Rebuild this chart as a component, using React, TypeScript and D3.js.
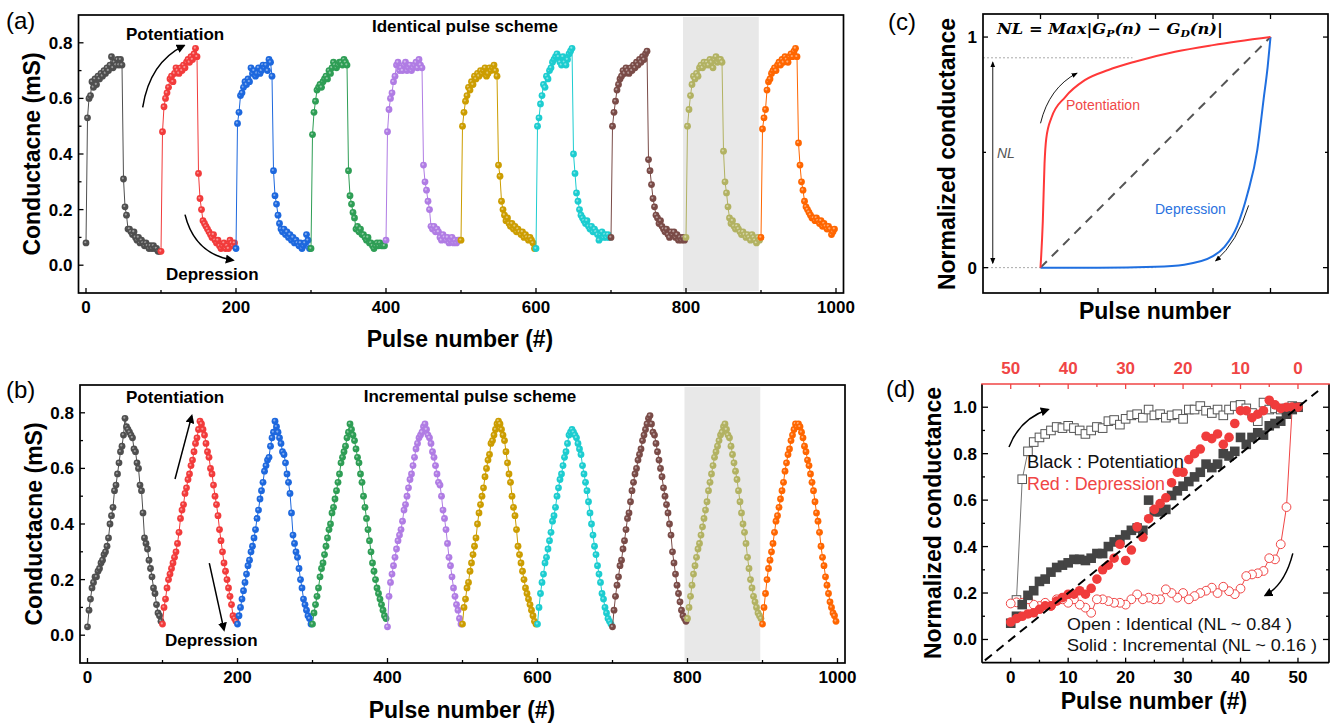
import React from 'react';
import * as d3 from 'd3';

// ---------------- DATA ----------------
const cycleColors = ['#4f4f4f', '#f23b3b', '#1d68de', '#2e9e55', '#b07ce4', '#cc9d00', '#1ccdd0', '#7a4b47', '#b2b262', '#ff6600'];
const pulsesPerCycle = 100;
const sampleStep = 2; // every 2nd pulse
const highlightBand = [796, 897];

// (a) identical pulse scheme, conductance (mS), one array per cycle (pulses 0,2,...,98)
const identicalCycles: number[][] = [
  [0.08,0.53,0.60,0.61,0.66,0.64,0.67,0.65,0.68,0.67,0.69,0.68,0.70,0.69,0.71,0.70,0.72,0.75,0.71,0.73,0.72,0.74,0.72,0.74,0.72, 0.31,0.21,0.18,0.13,0.13,0.12,0.11,0.12,0.10,0.09,0.10,0.08,0.09,0.08,0.07,0.08,0.07,0.06,0.07,0.06,0.07,0.06,0.06,0.05,0.05],
  [0.05,0.48,0.57,0.60,0.62,0.64,0.67,0.68,0.66,0.69,0.71,0.70,0.69,0.71,0.70,0.72,0.71,0.73,0.74,0.73,0.75,0.74,0.76,0.78,0.75, 0.33,0.24,0.20,0.16,0.15,0.14,0.13,0.12,0.11,0.10,0.11,0.09,0.08,0.09,0.07,0.06,0.07,0.08,0.06,0.07,0.06,0.09,0.08,0.07,0.08],
  [0.06,0.51,0.55,0.61,0.62,0.64,0.66,0.65,0.67,0.66,0.71,0.69,0.70,0.68,0.69,0.71,0.69,0.70,0.72,0.71,0.72,0.70,0.74,0.73,0.68, 0.34,0.25,0.22,0.18,0.15,0.13,0.12,0.13,0.11,0.12,0.10,0.11,0.09,0.10,0.08,0.09,0.08,0.07,0.08,0.06,0.07,0.08,0.11,0.09,0.06],
  [0.06,0.47,0.55,0.59,0.63,0.64,0.65,0.64,0.66,0.67,0.68,0.67,0.70,0.69,0.71,0.73,0.72,0.71,0.72,0.73,0.73,0.72,0.74,0.73,0.72, 0.34,0.25,0.22,0.19,0.17,0.13,0.14,0.12,0.13,0.11,0.11,0.10,0.09,0.10,0.08,0.08,0.07,0.06,0.07,0.08,0.07,0.08,0.07,0.07,0.07],
  [0.09,0.48,0.56,0.60,0.62,0.66,0.68,0.72,0.73,0.70,0.71,0.70,0.72,0.73,0.70,0.71,0.72,0.70,0.71,0.72,0.73,0.71,0.74,0.72,0.71, 0.36,0.30,0.27,0.23,0.20,0.14,0.13,0.14,0.12,0.13,0.12,0.10,0.09,0.11,0.10,0.09,0.10,0.08,0.09,0.10,0.08,0.09,0.08,0.09,0.09],
  [0.09,0.50,0.55,0.59,0.61,0.64,0.63,0.66,0.65,0.68,0.67,0.69,0.68,0.70,0.69,0.70,0.71,0.68,0.69,0.71,0.70,0.71,0.72,0.70,0.68, 0.36,0.32,0.23,0.20,0.18,0.16,0.17,0.15,0.14,0.15,0.13,0.14,0.12,0.13,0.12,0.11,0.12,0.10,0.11,0.10,0.09,0.10,0.09,0.08,0.06],
  [0.06,0.50,0.53,0.58,0.61,0.65,0.64,0.68,0.67,0.70,0.71,0.73,0.74,0.75,0.76,0.75,0.73,0.72,0.75,0.73,0.72,0.74,0.76,0.77,0.78, 0.40,0.33,0.26,0.23,0.20,0.18,0.17,0.16,0.15,0.16,0.14,0.13,0.14,0.12,0.13,0.12,0.11,0.09,0.11,0.12,0.10,0.11,0.10,0.11,0.10],
  [0.10,0.50,0.55,0.59,0.63,0.65,0.67,0.68,0.70,0.69,0.71,0.70,0.69,0.71,0.70,0.72,0.71,0.73,0.72,0.74,0.73,0.75,0.74,0.76,0.77, 0.38,0.34,0.29,0.24,0.21,0.18,0.17,0.15,0.16,0.14,0.13,0.12,0.13,0.11,0.10,0.12,0.11,0.12,0.10,0.11,0.09,0.10,0.09,0.10,0.09],
  [0.10,0.50,0.56,0.61,0.65,0.68,0.67,0.69,0.68,0.71,0.72,0.71,0.73,0.72,0.73,0.72,0.74,0.73,0.71,0.74,0.75,0.73,0.74,0.74,0.73, 0.41,0.30,0.26,0.21,0.17,0.15,0.16,0.14,0.13,0.14,0.13,0.12,0.11,0.12,0.11,0.10,0.11,0.10,0.09,0.11,0.10,0.09,0.08,0.10,0.09],
  [0.10,0.49,0.53,0.56,0.63,0.66,0.67,0.69,0.70,0.71,0.70,0.72,0.73,0.72,0.74,0.73,0.75,0.74,0.73,0.75,0.76,0.75,0.77,0.78,0.75, 0.44,0.36,0.30,0.27,0.23,0.21,0.20,0.19,0.18,0.17,0.17,0.16,0.17,0.16,0.15,0.16,0.14,0.15,0.14,0.13,0.14,0.13,0.11,0.12,0.13],
];

// (b) incremental pulse scheme
const incrementalCycles: number[][] = [
  [0.03,0.09,0.13,0.17,0.19,0.21,0.21,0.23,0.24,0.26,0.27,0.29,0.30,0.32,0.35,0.40,0.43,0.46,0.52,0.54,0.58,0.62,0.66,0.68,0.72, 0.78,0.75,0.74,0.73,0.72,0.71,0.67,0.66,0.62,0.60,0.54,0.52,0.44,0.35,0.33,0.31,0.27,0.24,0.21,0.17,0.15,0.11,0.08,0.07,0.05],
  [0.04,0.10,0.13,0.17,0.20,0.22,0.24,0.26,0.28,0.30,0.33,0.37,0.42,0.45,0.47,0.51,0.53,0.56,0.58,0.61,0.63,0.66,0.69,0.71,0.74, 0.77,0.76,0.74,0.72,0.69,0.66,0.64,0.60,0.58,0.54,0.50,0.47,0.43,0.38,0.34,0.30,0.26,0.23,0.20,0.17,0.14,0.11,0.07,0.06,0.05],
  [0.04,0.07,0.10,0.13,0.16,0.19,0.22,0.25,0.27,0.30,0.32,0.35,0.38,0.42,0.45,0.49,0.52,0.55,0.59,0.61,0.63,0.64,0.68,0.71,0.73, 0.77,0.75,0.73,0.71,0.69,0.66,0.65,0.62,0.58,0.55,0.51,0.44,0.36,0.33,0.30,0.28,0.24,0.20,0.17,0.13,0.11,0.09,0.07,0.06,0.04],
  [0.04,0.08,0.11,0.14,0.17,0.21,0.24,0.26,0.29,0.32,0.35,0.38,0.40,0.44,0.46,0.49,0.52,0.55,0.58,0.62,0.64,0.66,0.68,0.71,0.73, 0.76,0.74,0.72,0.70,0.67,0.64,0.62,0.58,0.55,0.50,0.46,0.42,0.38,0.34,0.30,0.26,0.23,0.20,0.17,0.15,0.13,0.11,0.09,0.07,0.06],
  [0.03,0.14,0.19,0.22,0.25,0.28,0.31,0.34,0.36,0.38,0.41,0.45,0.47,0.50,0.53,0.56,0.58,0.61,0.64,0.67,0.69,0.71,0.72,0.73,0.75, 0.76,0.74,0.72,0.71,0.69,0.66,0.64,0.61,0.58,0.55,0.54,0.50,0.45,0.42,0.38,0.33,0.28,0.25,0.21,0.17,0.14,0.11,0.09,0.06,0.04],
  [0.04,0.10,0.13,0.17,0.19,0.23,0.26,0.29,0.32,0.35,0.40,0.44,0.47,0.50,0.53,0.57,0.60,0.63,0.65,0.69,0.70,0.72,0.74,0.76,0.77, 0.76,0.74,0.72,0.70,0.66,0.62,0.58,0.55,0.50,0.46,0.43,0.38,0.32,0.29,0.26,0.23,0.20,0.17,0.15,0.13,0.11,0.09,0.07,0.05,0.04],
  [0.04,0.10,0.15,0.19,0.22,0.26,0.28,0.31,0.34,0.37,0.41,0.43,0.46,0.50,0.53,0.56,0.58,0.61,0.64,0.66,0.69,0.72,0.73,0.74,0.73, 0.72,0.71,0.69,0.67,0.65,0.61,0.58,0.55,0.52,0.48,0.44,0.40,0.36,0.32,0.29,0.25,0.22,0.19,0.15,0.13,0.10,0.08,0.06,0.05,0.04],
  [0.03,0.09,0.14,0.18,0.21,0.25,0.27,0.31,0.34,0.38,0.42,0.44,0.48,0.52,0.55,0.58,0.60,0.63,0.65,0.67,0.70,0.72,0.74,0.76,0.78, 0.79,0.76,0.73,0.72,0.69,0.66,0.63,0.60,0.57,0.53,0.50,0.47,0.44,0.40,0.36,0.30,0.26,0.22,0.18,0.15,0.12,0.09,0.07,0.06,0.05],
  [0.06,0.10,0.14,0.18,0.22,0.25,0.28,0.31,0.33,0.36,0.39,0.42,0.45,0.48,0.52,0.55,0.58,0.61,0.64,0.66,0.68,0.70,0.72,0.73,0.75, 0.76,0.74,0.72,0.71,0.68,0.65,0.62,0.59,0.56,0.52,0.48,0.44,0.40,0.37,0.33,0.28,0.24,0.20,0.17,0.14,0.12,0.10,0.08,0.07,0.06],
  [0.04,0.10,0.15,0.20,0.24,0.27,0.30,0.33,0.37,0.41,0.43,0.46,0.49,0.52,0.55,0.59,0.62,0.65,0.67,0.70,0.72,0.74,0.76,0.75,0.76, 0.75,0.73,0.71,0.68,0.66,0.63,0.61,0.58,0.55,0.52,0.48,0.44,0.41,0.37,0.32,0.28,0.25,0.21,0.18,0.15,0.12,0.10,0.08,0.07,0.05],
];

// (c) schematic normalized curves
const schemPotPulse = [0, 0.04, 0.07, 0.1, 0.19, 0.43, 0.77, 1.18, 1.64, 2.34, 3.0, 4.0];
const schemPotG = [0, 0.2, 0.45, 0.56, 0.65, 0.74, 0.813, 0.857, 0.893, 0.936, 0.965, 1.0];
const schemDepPulse = [0, 1, 2, 2.5, 3, 3.2, 3.42, 3.6, 3.77, 3.88, 3.95, 4.0];
const schemDepG = [0, 0, 0.004, 0.013, 0.05, 0.09, 0.18, 0.32, 0.51, 0.73, 0.87, 1.0];
const nlLevel = 0.91;

// (d) normalized conductance
const identPotStart = 1; // pulses 1..50
const identPot = [0.17,0.69,0.81,0.85,0.87,0.885,0.90,0.915,0.91,0.92,0.91,0.90,0.885,0.90,0.915,0.91,0.94,0.945,0.925,0.95,0.965,0.97,0.955,0.99,0.965,0.97,0.955,0.965,0.97,0.95,0.99,0.99,1.005,0.985,0.975,0.99,0.965,0.99,1.005,1.01,0.995,0.975,0.94,1.02,0.99,0.995,0.99,0.995,1.005,1.0];
const identDepStart = 1; // depression pulses on top axis, 1..50
const identDep = [1.0,0.57,0.41,0.345,0.35,0.295,0.285,0.28,0.273,0.219,0.195,0.208,0.227,0.20,0.223,0.21,0.20,0.187,0.173,0.20,0.18,0.20,0.216,0.173,0.173,0.18,0.173,0.194,0.173,0.15,0.158,0.158,0.165,0.173,0.173,0.115,0.137,0.15,0.173,0.158,0.173,0.173,0.144,0.158,0.144,0.15,0.173,0.158,0.16,0.155];
const incrPotStart = 0; // pulses 0..50
const incrPot = [0.07,0.10,0.15,0.19,0.21,0.25,0.26,0.29,0.31,0.32,0.33,0.345,0.345,0.34,0.35,0.37,0.37,0.40,0.42,0.43,0.45,0.47,0.48,0.47,0.60,0.55,0.55,0.56,0.62,0.64,0.66,0.68,0.70,0.72,0.755,0.74,0.755,0.80,0.79,0.81,0.87,0.84,0.87,0.89,0.88,0.92,0.93,0.94,0.97,0.99,1.0];
const incrDepStart = 0; // top-axis pulses 0..50
const incrDep = [1.0,1.0,1.0,0.995,1.01,1.03,0.985,0.97,0.955,0.985,0.985,0.93,0.87,0.84,0.885,0.865,0.875,0.82,0.80,0.775,0.72,0.72,0.675,0.61,0.585,0.56,0.52,0.44,0.485,0.385,0.34,0.41,0.35,0.32,0.30,0.26,0.22,0.195,0.21,0.195,0.195,0.18,0.165,0.145,0.145,0.13,0.115,0.11,0.10,0.09,0.075];

// ticks
const abXTicks = [0, 200, 400, 600, 800, 1000];
const abXMinor = [100, 300, 500, 700, 900];
const abYTicks = [0, 0.2, 0.4, 0.6, 0.8];
const abYMinor = [0.1, 0.3, 0.5, 0.7];
const cXTicks = [0, 1, 2, 3, 4];
const cYTicks = [0, 1];
const cYMinor = [0.5];
const dXTicks = [0, 10, 20, 30, 40, 50];
const dXMinor = [5, 15, 25, 35, 45];
const dYTicks = [0, 0.2, 0.4, 0.6, 0.8, 1.0];
const dYMinor = [0.1, 0.3, 0.5, 0.7, 0.9];
const dTopTicks = [50, 40, 30, 20, 10, 0];
const dTopMinor = [45, 35, 25, 15, 5];

// ---------------- LAYOUT ----------------
const FONT = "'Liberation Sans', Arial, Helvetica, sans-serif";
const RED = '#f04545';

const xA = d3.scaleLinear().domain([-10, 1010]).range([78.5, 843.5]);
const yA = d3.scaleLinear().domain([-0.1, 0.9]).range([293, 15]);
const xB = d3.scaleLinear().domain([-10, 1010]).range([80, 845]);
const yB = d3.scaleLinear().domain([-0.1, 0.9]).range([663, 385]);
const xC = d3.scaleLinear().domain([-1, 5]).range([983, 1328]);
const yC = d3.scaleLinear().domain([-0.11, 1.1]).range([293, 14]);
const xD = d3.scaleLinear().domain([-5, 55.4]).range([982, 1329]);
const xDTop = d3.scaleLinear().domain([55, -5.4]).range([982, 1329]);
const yD = d3.scaleLinear().domain([-0.1, 1.1]).range([662.7, 384]);

type Box = { l: number; r: number; t: number; b: number };
const boxOf = (x: any, y: any): Box => ({ l: x.range()[0], r: x.range()[1], t: y.range()[1], b: y.range()[0] });

function ticks(key: string, scale: any, values: number[], side: string, box: Box, len: number, color = '#000') {
  return values.map((v, i) => {
    const p = scale(v);
    let a: any;
    if (side === 'bottom') a = { x1: p, x2: p, y1: box.b, y2: box.b - len };
    else if (side === 'top') a = { x1: p, x2: p, y1: box.t, y2: box.t + len };
    else if (side === 'left') a = { x1: box.l, x2: box.l + len, y1: p, y2: p };
    else a = { x1: box.r, x2: box.r - len, y1: p, y2: p };
    return <line key={key + i} {...a} stroke={color} strokeWidth={1.3} />;
  });
}

function Marker({ x, y, c }: { x: number; y: number; c: string }) {
  return (
    <g>
      <circle cx={x} cy={y} r={3.4} fill={c} />
      <circle cx={x - 0.7} cy={y - 0.7} r={1.1} fill="#fff" opacity={0.45} />
    </g>
  );
}

function CyclePanel({ cycles, xs, ys, id }: { cycles: number[][]; xs: any; ys: any; id: string }) {
  const line = d3.line<[number, number]>();
  return (
    <g>
      {cycles.map((vals, c) => {
        const pts: [number, number][] = vals.map((v, i) => [xs(c * pulsesPerCycle + i * sampleStep), ys(v)]);
        return (
          <g key={id + c}>
            <path d={line(pts) || ''} fill="none" stroke={cycleColors[c]} strokeWidth={1} />
            {pts.map((p, i) => <Marker key={i} x={p[0]} y={p[1]} c={cycleColors[c]} />)}
          </g>
        );
      })}
    </g>
  );
}

function AxesAB({ xs, ys, id }: { xs: any; ys: any; id: string }) {
  const box = boxOf(xs, ys);
  const fmt = d3.format('.1f');
  return (
    <g fontFamily={FONT}>
      <rect x={box.l} y={box.t} width={box.r - box.l} height={box.b - box.t} fill="none" stroke="#000" strokeWidth={1.7} />
      {ticks(id + 'xb', xs, abXTicks, 'bottom', box, 5)}
      {ticks(id + 'xm', xs, abXMinor, 'bottom', box, 3)}
      {ticks(id + 'yl', ys, abYTicks, 'left', box, 5)}
      {ticks(id + 'ym', ys, abYMinor, 'left', box, 3)}
      {abXTicks.map((v) => (
        <text key={'xl' + v} x={xs(v)} y={box.b + 20} textAnchor="middle" fontSize={17} fontWeight="bold">{v}</text>
      ))}
      {abYTicks.map((v) => (
        <text key={'yl' + v} x={box.l - 6} y={ys(v) + 6} textAnchor="end" fontSize={17} fontWeight="bold">{fmt(v)}</text>
      ))}
    </g>
  );
}

export default function App() {
  const boxA = boxOf(xA, yA);
  const boxB = boxOf(xB, yB);
  const boxC = boxOf(xC, yC);
  const boxD = boxOf(xD, yD);
  const fmt1 = d3.format('.1f');

  const curve = d3.line<[number, number]>().curve(d3.curveMonotoneX);
  const potPts: [number, number][] = schemPotPulse.map((p, i) => [xC(p), yC(schemPotG[i])]);
  const depPts: [number, number][] = schemDepPulse.map((p, i) => [xC(p), yC(schemDepG[i])]);
  const straight = d3.line<[number, number]>();

  const quad = (sx: any, sy: any, a: number[], c: number[], b: number[]) =>
    `M${sx(a[0])},${sy(a[1])} Q${sx(c[0])},${sy(c[1])} ${sx(b[0])},${sy(b[1])}`;

  const openSq = identPot.map((v, i) => [xD(identPotStart + i), yD(v)] as [number, number]);
  const openCi = identDep.map((v, i) => [xDTop(identDepStart + i), yD(v)] as [number, number]);
  const solidSq = incrPot.map((v, i) => [xD(incrPotStart + i), yD(v)] as [number, number]);
  const solidCi = incrDep.map((v, i) => [xDTop(incrDepStart + i), yD(v)] as [number, number]);

  return (
    <svg width={1336} height={723} style={{ position: 'absolute', left: 0, top: 0, background: '#fff' }} fontFamily={FONT}>
      <defs>
        <marker id="ah" viewBox="0 0 10 10" refX="8" refY="5" markerWidth="6" markerHeight="6" orient="auto-start-reverse">
          <path d="M0,0 L10,5 L0,10 z" fill="#000" />
        </marker>
        <marker id="ahs" viewBox="0 0 10 10" refX="8" refY="5" markerWidth="7" markerHeight="7" orient="auto-start-reverse">
          <path d="M0,1 L10,5 L0,9 z" fill="#000" />
        </marker>
      </defs>

      {/* ---------- (a) ---------- */}
      <rect x={xA(highlightBand[0])} y={boxA.t + 2} width={xA(highlightBand[1]) - xA(highlightBand[0])} height={boxA.b - boxA.t - 4} fill="#e8e8e8" />
      <CyclePanel cycles={identicalCycles} xs={xA} ys={yA} id="a" />
      <AxesAB xs={xA} ys={yA} id="a" />
      <text x={6} y={29} fontSize={24}>(a)</text>
      <text transform="translate(40,154) rotate(-90)" textAnchor="middle" fontSize={23} fontWeight="bold">Conductacne (mS)</text>
      <text x={460} y={347} textAnchor="middle" fontSize={23} fontWeight="bold">Pulse number (#)</text>
      <text x={465} y={32} textAnchor="middle" fontSize={17} fontWeight="bold">Identical pulse scheme</text>
      <text x={126} y={40} fontSize={17} fontWeight="bold">Potentiation</text>
      <text x={166} y={280} fontSize={17} fontWeight="bold">Depression</text>
      <path d={quad(xA, yA, [75.6, 0.568], [85, 0.73], [130.7, 0.79])} fill="none" stroke="#000" strokeWidth={1.5} markerEnd="url(#ah)" />
      <path d={quad(xA, yA, [132, 0.182], [145, 0.04], [196, 0.018])} fill="none" stroke="#000" strokeWidth={1.5} markerEnd="url(#ah)" />

      {/* ---------- (b) ---------- */}
      <rect x={xB(highlightBand[0])} y={boxB.t + 2} width={xB(highlightBand[1]) - xB(highlightBand[0])} height={boxB.b - boxB.t - 4} fill="#e8e8e8" />
      <CyclePanel cycles={incrementalCycles} xs={xB} ys={yB} id="b" />
      <AxesAB xs={xB} ys={yB} id="b" />
      <text x={6} y={398} fontSize={24}>(b)</text>
      <text transform="translate(42,524) rotate(-90)" textAnchor="middle" fontSize={23} fontWeight="bold">Conductacne (mS)</text>
      <text x={462} y={718} textAnchor="middle" fontSize={23} fontWeight="bold">Pulse number (#)</text>
      <text x={470} y={402} textAnchor="middle" fontSize={17} fontWeight="bold">Incremental pulse scheme</text>
      <text x={126} y={403} fontSize={17} fontWeight="bold">Potentiation</text>
      <text x={165} y={646} fontSize={17} fontWeight="bold">Depression</text>
      <path d={straight([[xB(116.7), yB(0.562)], [xB(139), yB(0.789)]]) || ''} fill="none" stroke="#000" strokeWidth={1.5} markerEnd="url(#ah)" />
      <path d={straight([[xB(162.4), yB(0.259)], [xB(182), yB(0.019)]]) || ''} fill="none" stroke="#000" strokeWidth={1.5} markerEnd="url(#ah)" />

      {/* ---------- (c) ---------- */}
      <line x1={boxC.l} x2={xC(1.6)} y1={yC(nlLevel)} y2={yC(nlLevel)} stroke="#aaa" strokeWidth={1} strokeDasharray="2,2" />
      <line x1={boxC.l} x2={xC(2)} y1={yC(0)} y2={yC(0)} stroke="#aaa" strokeWidth={1} strokeDasharray="2,2" />
      <line x1={xC(0)} y1={yC(0)} x2={xC(4)} y2={yC(1)} stroke="#555" strokeWidth={2} strokeDasharray="9,7" />
      <path d={curve(depPts) || ''} fill="none" stroke="#1f6fe0" strokeWidth={2} />
      <path d={curve(potPts) || ''} fill="none" stroke="#ff3838" strokeWidth={2} />
      <line x1={xC(-0.83)} x2={xC(-0.83)} y1={yC(nlLevel - 0.02)} y2={yC(0.02)} stroke="#000" strokeWidth={0.9} markerStart="url(#ahs)" markerEnd="url(#ahs)" />
      <path d={quad(xC, yC, [0, 0.626], [0.15, 0.78], [0.63, 0.843])} fill="none" stroke="#000" strokeWidth={0.9} markerEnd="url(#ahs)" />
      <path d={quad(xC, yC, [3.62, 0.27], [3.42, 0.11], [3.05, 0.03])} fill="none" stroke="#000" strokeWidth={0.9} markerEnd="url(#ahs)" />
      <rect x={boxC.l} y={boxC.t} width={boxC.r - boxC.l} height={boxC.b - boxC.t} fill="none" stroke="#000" strokeWidth={1.7} />
      {ticks('cb', xC, cXTicks, 'bottom', boxC, 5)}
      {ticks('ct', xC, cXTicks, 'top', boxC, 5)}
      {ticks('cl', yC, cYTicks, 'left', boxC, 5)}
      {ticks('cr', yC, cYTicks, 'right', boxC, 5)}
      {ticks('clm', yC, cYMinor, 'left', boxC, 3)}
      {ticks('crm', yC, cYMinor, 'right', boxC, 3)}
      {cYTicks.map((v) => (
        <text key={'cy' + v} x={boxC.l - 6} y={yC(v) + 6} textAnchor="end" fontSize={17} fontWeight="bold">{v}</text>
      ))}
      <text x={888} y={30} fontSize={24}>(c)</text>
      <text transform="translate(955,154) rotate(-90)" textAnchor="middle" fontSize={23} fontWeight="bold">Normalized conductance</text>
      <text x={1155} y={319} textAnchor="middle" fontSize={23} fontWeight="bold">Pulse number</text>
      <text x={997} y={34} fontFamily="'DejaVu Serif', 'Liberation Serif', serif" fontStyle="italic" fontWeight="bold" fontSize={15} textLength={226} lengthAdjust="spacingAndGlyphs">
        NL = Max|G<tspan dy={3} fontSize={10}>P</tspan><tspan dy={-3}>(n) − G</tspan><tspan dy={3} fontSize={10}>D</tspan><tspan dy={-3}>(n)|</tspan>
      </text>
      <text x={1066} y={110} fontSize={14} fill="#f04848">Potentiation</text>
      <text x={1155} y={214} fontSize={14} fill="#2a72e0">Depression</text>
      <text x={997} y={158} fontSize={14} fontStyle="italic" fill="#555">NL</text>

      {/* ---------- (d) ---------- */}
      <path d={straight(openSq) || ''} fill="none" stroke="#777" strokeWidth={1} />
      {openSq.map((p, i) => <rect key={'os' + i} x={p[0] - 4.3} y={p[1] - 4.3} width={8.6} height={8.6} fill="#fff" stroke="#555" strokeWidth={1} />)}
      <path d={straight(openCi) || ''} fill="none" stroke={RED} strokeWidth={1} />
      {openCi.map((p, i) => <circle key={'oc' + i} cx={p[0]} cy={p[1]} r={4.4} fill="#fff" stroke={RED} strokeWidth={1} />)}
      {solidSq.map((p, i) => <rect key={'ss' + i} x={p[0] - 4.8} y={p[1] - 4.8} width={9.6} height={9.6} fill="#444" />)}
      {solidCi.map((p, i) => <circle key={'sc' + i} cx={p[0]} cy={p[1]} r={4.8} fill="#f03c3c" />)}
      <line x1={xD(-4.5)} y1={yD(-0.09)} x2={xD(53.5)} y2={yD(1.07)} stroke="#000" strokeWidth={2} strokeDasharray="9,6" />
      <path d={quad(xD, yD, [-0.3, 0.829], [1.6, 0.95], [6.5, 0.99])} fill="none" stroke="#000" strokeWidth={1.5} markerEnd="url(#ah)" />
      <path d={quad(xD, yD, [49.1, 0.371], [47.7, 0.235], [44.3, 0.19])} fill="none" stroke="#000" strokeWidth={1.5} markerEnd="url(#ah)" />
      <line x1={boxD.l} x2={boxD.l} y1={boxD.t} y2={boxD.b} stroke="#000" strokeWidth={1.7} />
      <line x1={boxD.r} x2={boxD.r} y1={boxD.t} y2={boxD.b} stroke="#000" strokeWidth={1.7} />
      <line x1={boxD.l} x2={boxD.r} y1={boxD.b} y2={boxD.b} stroke="#000" strokeWidth={1.7} />
      <line x1={boxD.l - 0.8} x2={boxD.r + 0.8} y1={boxD.t} y2={boxD.t} stroke={RED} strokeWidth={1.7} />
      {ticks('db', xD, dXTicks, 'bottom', boxD, 5)}
      {ticks('dbm', xD, dXMinor, 'bottom', boxD, 3)}
      {ticks('dt', xDTop, dTopTicks, 'top', boxD, 5, RED)}
      {ticks('dtm', xDTop, dTopMinor, 'top', boxD, 3, RED)}
      {ticks('dl', yD, dYTicks, 'left', boxD, 6)}
      {ticks('dlm', yD, dYMinor, 'left', boxD, 3)}
      {ticks('dr', yD, dYTicks, 'right', boxD, 6)}
      {ticks('drm', yD, dYMinor, 'right', boxD, 3)}
      {dXTicks.map((v) => (
        <text key={'dx' + v} x={xD(v)} y={683} textAnchor="middle" fontSize={17} fontWeight="bold">{v}</text>
      ))}
      {dTopTicks.map((v) => (
        <text key={'dtx' + v} x={xDTop(v)} y={374} textAnchor="middle" fontSize={17} fontWeight="bold" fill={RED}>{v}</text>
      ))}
      {dYTicks.map((v) => (
        <text key={'dy' + v} x={boxD.l - 5} y={yD(v) + 6} textAnchor="end" fontSize={17} fontWeight="bold">{fmt1(v)}</text>
      ))}
      <text x={886} y={397} fontSize={24}>(d)</text>
      <text transform="translate(941,523) rotate(-90)" textAnchor="middle" fontSize={23} fontWeight="bold">Normalized conductance</text>
      <text x={1154} y={709} textAnchor="middle" fontSize={23} fontWeight="bold">Pulse number (#)</text>
      <text x={1027} y={468} fontSize={18} fill="#111" textLength={157} lengthAdjust="spacingAndGlyphs">Black : Potentiation</text>
      <text x={1027} y={490} fontSize={18} fill={RED} textLength={138} lengthAdjust="spacingAndGlyphs">Red : Depression</text>
      <text x={1067} y={630} fontSize={17} fill="#111" textLength={225} lengthAdjust="spacingAndGlyphs">Open : Identical (NL ~ 0.84 )</text>
      <text x={1067} y={651} fontSize={17} fill="#111" textLength={250} lengthAdjust="spacingAndGlyphs">Solid : Incremental (NL ~ 0.16 )</text>
    </svg>
  );
}
